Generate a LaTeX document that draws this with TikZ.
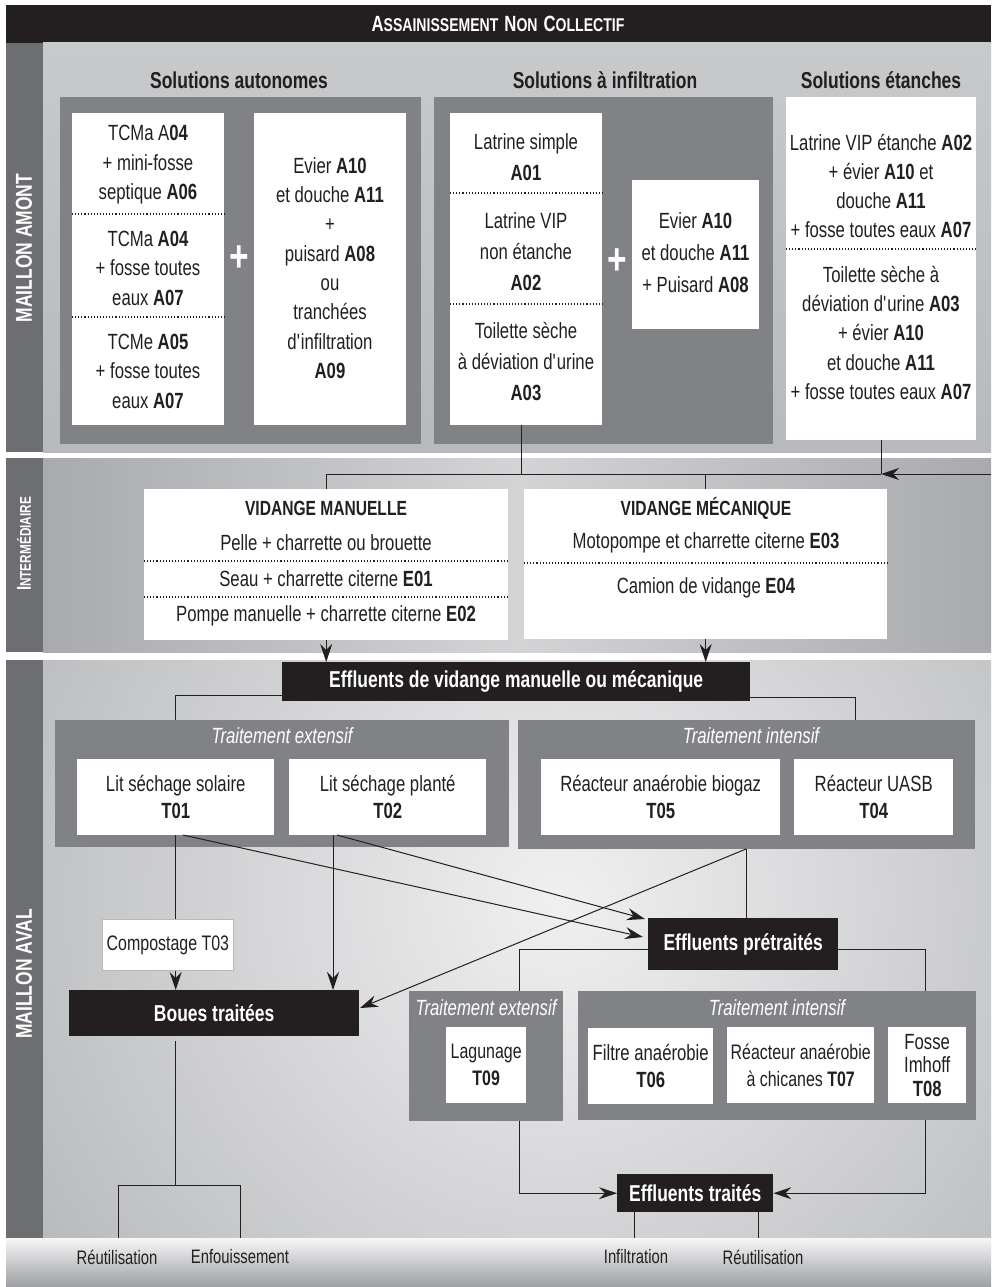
\documentclass[tikz,border=0pt]{standalone}
\usepackage{fontspec}
\setmainfont{Liberation Sans}[FakeStretch=0.76]
\usetikzlibrary{arrows.meta}
\definecolor{ink}{HTML}{231F20}
\definecolor{strip}{HTML}{6D6E71}
\definecolor{dbox}{HTML}{808285}
\definecolor{bgone}{HTML}{C8C9CB}
\definecolor{bgonebot}{HTML}{B8B9BC}
\definecolor{bgtwo}{HTML}{A9AAAD}
\definecolor{bgtwomid}{HTML}{D3D4D6}
\definecolor{bgout}{HTML}{A0A2A5}
\definecolor{bgin}{HTML}{F0F0F1}
\definecolor{bandtop}{HTML}{F7F7F8}
\definecolor{bandbot}{HTML}{9C9EA1}
\newcommand{\ap}{\textquotesingle}
\newcommand{\bigsc}[1]{{\fontsize{22}{22}\selectfont\bfseries #1}}
\newcommand{\smsc}[1]{{\fontsize{18.5}{18.5}\selectfont\bfseries #1}}
\tikzset{
  wbox/.style={fill=white, inner sep=0pt, anchor=north west},
  gbox/.style={fill=dbox, inner sep=0pt, anchor=north west},
  kbox/.style={fill=ink, inner sep=0pt, anchor=north west, text=white, font=\fontsize{23}{23}\selectfont\bfseries},
  body/.style={font=\fontsize{22}{29.5}\selectfont, text=ink, align=center, inner sep=0pt},
  tbody/.style={font=\fontsize{22}{27}\selectfont, text=ink, align=center},
  gtitle/.style={font=\fontsize{22}{22}\selectfont\itshape, text=white, inner sep=0pt},
  sec/.style={font=\fontsize{23}{23}\selectfont\bfseries, text=ink, inner sep=0pt},
  plussign/.style={font=\fontsize{44}{44}\selectfont\bfseries, text=white, inner sep=0pt},
  conn/.style={draw=ink, line width=1pt},
  arr/.style={conn, -{Stealth[length=18pt,width=12pt,inset=6pt]}},
  dotl/.style={draw=ink, line width=1.1pt, dash pattern=on 1.1pt off 2pt},
  side/.style={rotate=90, text=white, inner sep=0pt},
  foot/.style={font=\fontsize{19.5}{19.5}\selectfont, text=ink, inner sep=0pt},
}
\begin{document}
\begin{tikzpicture}[x=1pt,y=-1pt]
\useasboundingbox (0,0) rectangle (991,1287);
\fill[white] (0,0) rectangle (991,1287);
% ---------- backgrounds ----------
\fill[ink] (6,5) rectangle (991,43);
\shade[top color=bgone, bottom color=bgonebot] (43,43) rectangle (991,452);
\fill[strip] (6,43) rectangle (43,452);
\shade[left color=bgtwo, right color=bgtwo, middle color=bgtwomid] (43,458) rectangle (991,652);
\fill[strip] (6,458) rectangle (43,652);
\begin{scope}
  \clip (43,660) rectangle (991,1238);
  \fill[bgout] (43,660) rectangle (991,1238);
  \shade[inner color=bgin, outer color=bgout] (560,900) circle (900);
\end{scope}
\fill[strip] (6,660) rectangle (43,1238);
\shade[top color=bandtop, bottom color=bandbot] (6,1238) rectangle (991,1287);
% ---------- headings ----------
\node[text=white, inner sep=0pt] (top) at (498,24)
  {\bigsc{A}\smsc{SSAINISSEMENT}\hspace{6pt}\bigsc{N}\smsc{ON}\hspace{6pt}\bigsc{C}\smsc{OLLECTIF}};
\node[side, font=\fontsize{23}{23}\selectfont\bfseries] (amont) at (24,248) {MAILLON AMONT};
\node[side] (inter) at (24,544)
  {{\fontsize{20}{20}\selectfont\bfseries I}{\fontsize{15.5}{15.5}\selectfont\bfseries NTERMÉDIAIRE}};
\node[side, font=\fontsize{23}{23}\selectfont\bfseries] (aval) at (24,974) {MAILLON AVAL};
% ---------- maillon amont ----------
\node[sec] (s1) at (239,80) {Solutions autonomes};
\node[sec] (s2) at (605,80) {Solutions à infiltration};
\node[sec] (s3) at (881,80) {Solutions étanches};
\node[gbox, minimum width=361, minimum height=347] (G1) at (60,97) {};
\node[wbox, minimum width=152, minimum height=312] (A) at (72,113) {};
\node[wbox, minimum width=152, minimum height=312] (B) at (254,113) {};
\node[gbox, minimum width=339, minimum height=347] (G2) at (434,97) {};
\node[wbox, minimum width=152, minimum height=312] (C) at (450,113) {};
\node[wbox, minimum width=127, minimum height=149] (D) at (632,180) {};
\node[wbox, minimum width=190, minimum height=343] (E) at (786,97) {};
\node[body] (a1) at (148,165) {TCMa A\textbf{04}\\+ mini-fosse\\septique \textbf{A06}};
\node[body] (a2) at (148,268) {TCMa \textbf{A04}\\+ fosse toutes\\eaux \textbf{A07}};
\node[body] (a3) at (148,371) {TCMe \textbf{A05}\\+ fosse toutes\\eaux \textbf{A07}};
\draw[dotl] (A.west |- 0,214) -- (A.east |- 0,214);
\draw[dotl] (A.west |- 0,317) -- (A.east |- 0,317);
\node[plussign] (p1) at (239,259) {+};
\node[body, font=\fontsize{22}{29.3}\selectfont] (b1) at (330,268)
  {Evier \textbf{A10}\\et douche \textbf{A11}\\+\\puisard \textbf{A08}\\ou\\tranchées\\d\ap infiltration\\\textbf{A09}};
\node[body, font=\fontsize{22}{31}\selectfont] (c1) at (526,157) {Latrine simple\\\textbf{A01}};
\node[body, font=\fontsize{22}{31}\selectfont] (c2) at (526,252) {Latrine VIP\\non étanche\\\textbf{A02}};
\node[body, font=\fontsize{22}{31}\selectfont] (c3) at (526,362) {Toilette sèche\\à déviation d\ap urine\\\textbf{A03}};
\draw[dotl] (C.west |- 0,193) -- (C.east |- 0,193);
\draw[dotl] (C.west |- 0,304) -- (C.east |- 0,304);
\node[plussign] (p2) at (617,262) {+};
\node[body, font=\fontsize{22}{32}\selectfont] (d1) at (695.5,253) {Evier \textbf{A10}\\et douche \textbf{A11}\\+ Puisard \textbf{A08}};
\node[body, font=\fontsize{22}{29}\selectfont] (e1) at (881,186)
  {Latrine VIP étanche \textbf{A02}\\+ évier \textbf{A10} et\\douche \textbf{A11}\\+ fosse toutes eaux \textbf{A07}};
\draw[dotl] (E.west |- 0,249) -- (E.east |- 0,249);
\node[body, font=\fontsize{22}{29.3}\selectfont] (e2) at (881,333)
  {Toilette sèche à\\déviation d\ap urine \textbf{A03}\\+ évier \textbf{A10}\\et douche \textbf{A11}\\+ fosse toutes eaux \textbf{A07}};
% ---------- intermediaire ----------
\node[wbox, minimum width=364, minimum height=151] (F) at (144,489) {};
\node[wbox, minimum width=363, minimum height=150] (G) at (524,489) {};
\node[body, font=\fontsize{20.5}{20.5}\selectfont\bfseries] (f0) at (326,508) {VIDANGE MANUELLE};
\node[body] (f1) at (326,543) {Pelle + charrette ou brouette};
\node[body] (f2) at (326,579) {Seau + charrette citerne \textbf{E01}};
\node[body] (f3) at (326,616) {Pompe manuelle + charrette citerne \textbf{E02}};
\draw[dotl] (F.west |- 0,561) -- (F.east |- 0,561);
\draw[dotl] (F.west |- 0,597) -- (F.east |- 0,597);
\node[body, font=\fontsize{20.5}{20.5}\selectfont\bfseries] (g0) at (706,508) {VIDANGE MÉCANIQUE};
\node[body] (g1) at (706,543) {Motopompe et charrette citerne \textbf{E03}};
\node[body] (g2) at (706,588) {Camion de vidange \textbf{E04}};
\draw[dotl] (G.west |- 0,563) -- (G.east |- 0,563);
% ---------- maillon aval ----------
\node[kbox, minimum width=468, minimum height=39] (EV) at (282,662) {Effluents de vidange manuelle ou mécanique};
\node[gbox, minimum width=454, minimum height=127] (GX1) at (55,720) {};
\node[gtitle] (gx1t) at (282,736) {Traitement extensif};
\node[wbox, tbody, minimum width=197, minimum height=76] (T01) at (77,759) {Lit séchage solaire\\\textbf{T01}};
\node[wbox, tbody, minimum width=197, minimum height=76] (T02) at (289,759) {Lit séchage planté\\\textbf{T02}};
\node[gbox, minimum width=457, minimum height=129] (GI1) at (518,720) {};
\node[gtitle] (gi1t) at (751,736) {Traitement intensif};
\node[wbox, tbody, minimum width=239, minimum height=76] (T05) at (541,759) {Réacteur anaérobie biogaz\\\textbf{T05}};
\node[wbox, tbody, minimum width=159, minimum height=76] (T04) at (794,759) {Réacteur UASB\\\textbf{T04}};
\node[wbox, draw=gray!55, line width=0.8pt, minimum width=131, minimum height=51,
      font=\fontsize{21}{21}\selectfont, text=ink] (T03) at (102,919) {Compostage T03};
\node[kbox, minimum width=290, minimum height=46] (BT) at (69,990) {Boues traitées};
\node[kbox, minimum width=190, minimum height=52] (EP) at (648,918) {Effluents prétraités};
\node[gbox, minimum width=154, minimum height=130] (GX2) at (409,991) {};
\node[gtitle] (gx2t) at (486,1008) {Traitement extensif};
\node[wbox, tbody, font=\fontsize{21}{27}\selectfont, minimum width=80, minimum height=76] (T09) at (446,1027) {Lagunage\\\textbf{T09}};
\node[gbox, minimum width=398, minimum height=129] (GI2) at (578,991) {};
\node[gtitle] (gi2t) at (777,1008) {Traitement intensif};
\node[wbox, tbody, minimum width=125, minimum height=76] (T06) at (588,1028) {Filtre anaérobie\\\textbf{T06}};
\node[wbox, tbody, font=\fontsize{21}{27}\selectfont, minimum width=147, minimum height=76] (T07) at (727,1027) {Réacteur anaérobie\\à chicanes \textbf{T07}};
\node[wbox, tbody, font=\fontsize{22}{23.5}\selectfont, minimum width=78, minimum height=76] (T08) at (888,1027) {Fosse\\Imhoff\\\textbf{T08}};
\node[kbox, minimum width=156, minimum height=38] (ET) at (617,1174) {Effluents traités};
% footer labels
\node[foot] (r1) at (117,1257) {Réutilisation};
\node[foot] (r2) at (240,1257) {Enfouissement};
\node[foot] (r3) at (636,1257) {Infiltration};
\node[foot] (r4) at (763,1257) {Réutilisation};
% ---------- connectors ----------
\coordinate (hub) at (991,474);
\coordinate (cbot) at (521,425);
\draw[conn] (cbot) -- (cbot |- hub);
\draw[conn] (E.south) -- (E.south |- hub);
\draw[arr] (hub) -- (E.south |- hub);
\draw[conn] (E.south |- hub) -- (F.north |- hub) -- (F.north);
\draw[conn] (G.north |- hub) -- (G.north);
\draw[arr] (F.south) -- (F.south |- EV.north);
\draw[arr] (G.south) -- (G.south |- EV.north);
\coordinate (evl) at (282,695);
\coordinate (evr) at (750,697);
\coordinate (gi1top) at (855,720);
\draw[conn] (evl) -| (T01.south |- GX1.north);
\draw[conn] (evr) -| (gi1top);
\draw[conn] (T01.south) -- (T01.south |- T03.north);
\draw[arr] (T01.south |- T03.south) -- (T01.south |- BT.north);
\coordinate (t02a) at (333,835);
\draw[arr] (t02a) -- (t02a |- BT.north);
\coordinate (t01d) at (183,835);
\coordinate (t02d) at (337,835);
\coordinate (epa) at (645,919);
\coordinate (epb) at (643,937);
\draw[arr] (t01d) -- (epb);
\draw[arr] (t02d) -- (epa);
\coordinate (gi1b) at (746,849);
\coordinate (btr) at (360,1008);
\draw[conn] (gi1b) -- (gi1b |- EP.north);
\draw[arr] (gi1b) -- (btr);
\coordinate (epl) at (648,949);
\coordinate (epr) at (838,949);
\coordinate (gx2top) at (519,991);
\coordinate (gi2top) at (925,991);
\draw[conn] (epl) -| (gx2top);
\draw[conn] (epr) -| (gi2top);
\coordinate (gx2b) at (519,1121);
\coordinate (gi2b) at (925,1120);
\draw[arr] (gx2b) |- (ET.west);
\draw[arr] (gi2b) |- (ET.east);
\coordinate (et1) at (634,1212);
\coordinate (et2) at (758,1212);
\draw[conn] (et1) -- (et1 |- 0,1238);
\draw[conn] (et2) -- (et2 |- 0,1238);
\coordinate (btb) at (175,1041);
\coordinate (btj) at (175,1185);
\coordinate (fl) at (118,1238);
\coordinate (fr) at (240,1238);
\draw[conn] (btb) -- (btj);
\draw[conn] (fl) |- (btj) -| (fr);
\end{tikzpicture}
\end{document}
